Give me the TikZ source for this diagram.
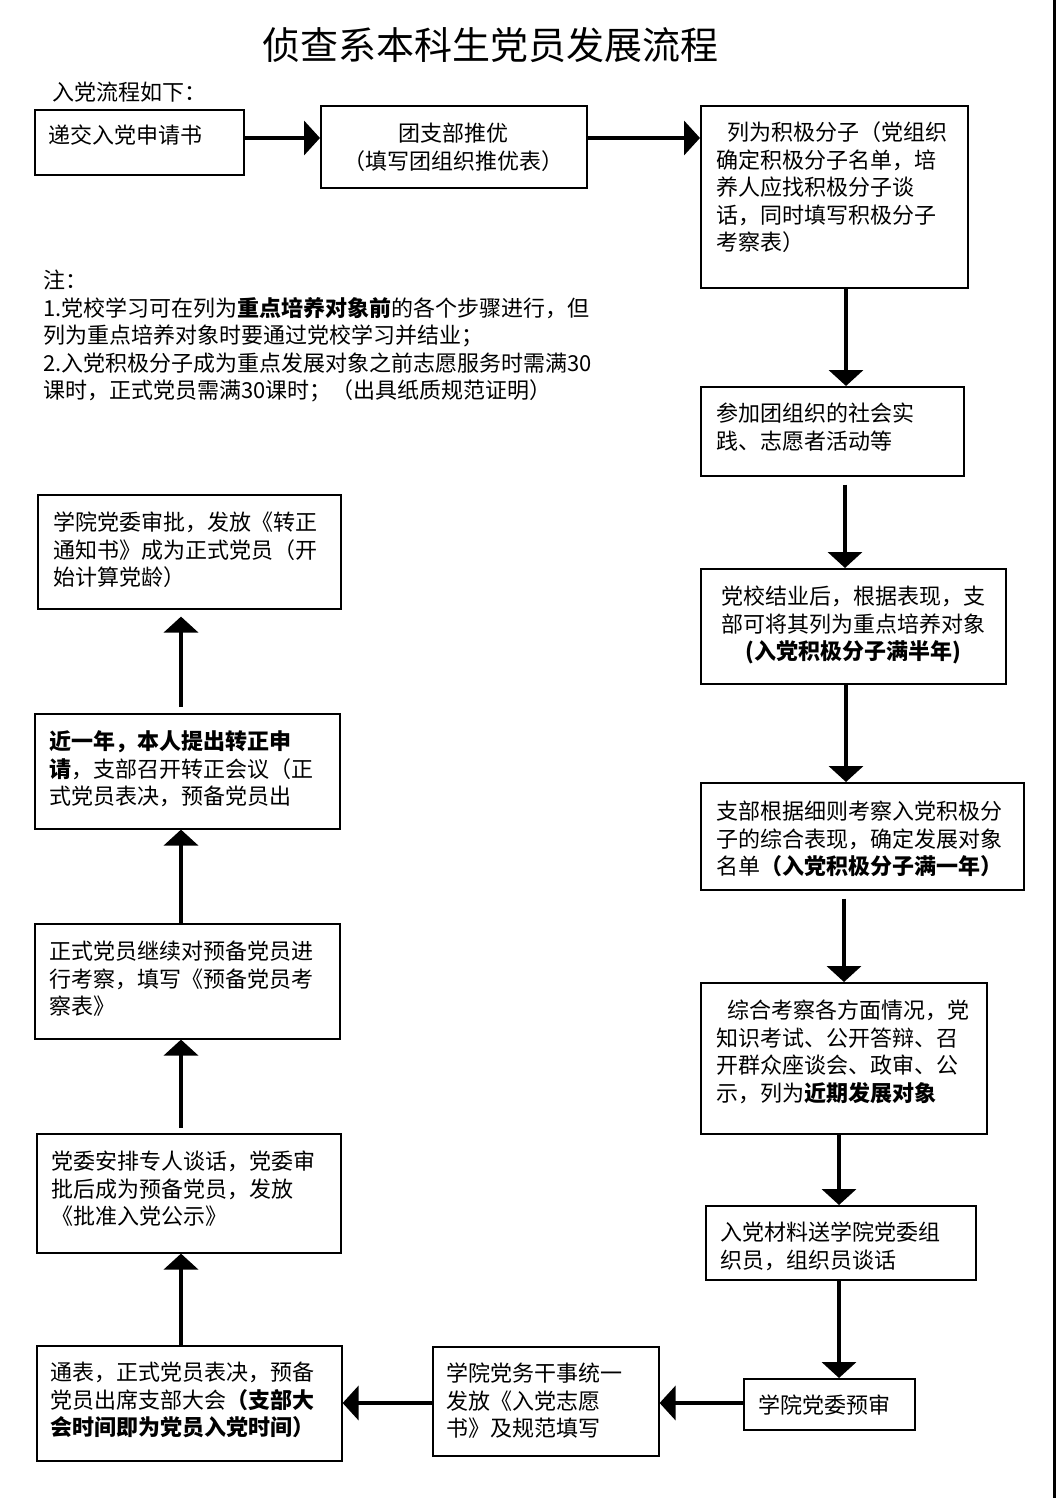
\documentclass[tikz,border=0pt]{standalone}
\usepackage{fontspec}
\setmainfont{Noto Sans CJK SC}
\usetikzlibrary{arrows.meta}
\newcommand\fl{\rule{0pt}{20pt}}
\tikzset{
  box/.style={draw, line width=1.6pt, rectangle, inner sep=0pt, anchor=north west},
  txt/.style={inner sep=0pt, anchor=north west, align=left, font=\fontsize{22pt}{27.5pt}\selectfont},
  ctxt/.style={txt, anchor=north, align=center},
  arr/.style={line width=4pt, -{Triangle[length=16pt,width=34pt]}}
}
\begin{document}
\begin{tikzpicture}[x=1pt,y=-1pt]
\fill[white] (0,0) rectangle (1056,1498);
\useasboundingbox (0,0) rectangle (1056,1498);
\draw[line width=2.5pt] (1054.5,0) -- (1054.5,1498);

\node[inner sep=0pt, font=\fontsize{38pt}{44pt}\selectfont] (title) at (490,45) {侦查系本科生党员发展流程};
\node[txt] (intro) at (52,80.4) {\fl 入党流程如下：};

% boxes
\node[box, minimum width=209pt, minimum height=65pt] (b1) at (34,109) {};
\node[box, minimum width=266pt, minimum height=82pt] (b2) at (320,105) {};
\node[box, minimum width=267pt, minimum height=182pt] (b3) at (700,105) {};
\node[box, minimum width=263pt, minimum height=89pt] (b4) at (700,386) {};
\node[box, minimum width=305pt, minimum height=115pt] (b5) at (700,568) {};
\node[box, minimum width=323pt, minimum height=107pt] (b6) at (700,782) {};
\node[box, minimum width=286pt, minimum height=151pt] (b7) at (700,982) {};
\node[box, minimum width=270pt, minimum height=74pt] (b8) at (705,1205) {};
\node[box, minimum width=171pt, minimum height=51pt] (b9) at (743,1378) {};
\node[box, minimum width=226pt, minimum height=109pt] (b10) at (432,1346) {};
\node[box, minimum width=305pt, minimum height=115pt] (b11) at (36,1345) {};
\node[box, minimum width=304pt, minimum height=119pt] (b12) at (36,1133) {};
\node[box, minimum width=305pt, minimum height=115pt] (b13) at (34,923) {};
\node[box, minimum width=305pt, minimum height=115pt] (b14) at (34,713) {};
\node[box, minimum width=303pt, minimum height=114pt] (b15) at (37,494) {};

% texts
\node[txt] (t1) at (48,123.4) {\fl 递交入党申请书};
\node[ctxt] (t2) at (453,121.4) {\fl 团支部推优\\（填写团组织推优表）};
\node[txt] (t3) at (716,120.4) {\fl\hspace{11pt}列为积极分子（党组织\\确定积极分子名单，培\\养人应找积极分子谈\\话，同时填写积极分子\\考察表）};
\node[txt] (note) at (43,268.4) {\fl 注：\\1.党校学习可在列为\textbf{重点培养对象前}的各个步骤进行，但\\列为重点培养对象时要通过党校学习并结业；\\2.入党积极分子成为重点发展对象之前志愿服务时需满30\\课时，正式党员需满30课时；（出具纸质规范证明）};
\node[txt] (t4) at (716,401.4) {\fl 参加团组织的社会实\\践、志愿者活动等};
\node[ctxt] (t5) at (853,584.4) {\fl 党校结业后，根据表现，支\\部可将其列为重点培养对象\\\textbf{(入党积极分子满半年)}};
\node[txt] (t6) at (716,799.4) {\fl 支部根据细则考察入党积极分\\子的综合表现，确定发展对象\\名单\textbf{（入党积极分子满一年）}};
\node[txt] (t7) at (716,998.4) {\fl\hspace{11pt}综合考察各方面情况，党\\知识考试、公开答辩、召\\开群众座谈会、政审、公\\示，列为\textbf{近期发展对象}};
\node[txt] (t8) at (720,1220.4) {\fl 入党材料送学院党委组\\织员，组织员谈话};
\node[txt] (t9) at (758,1393.4) {\fl 学院党委预审};
\node[txt] (t10) at (446,1361.4) {\fl 学院党务干事统一\\发放《入党志愿\\书》及规范填写};
\node[txt] (t11) at (50,1360.4) {\fl 通表，正式党员表决，预备\\党员出席支部大会\textbf{（支部大}\\\textbf{会时间即为党员入党时间）}};
\node[txt] (t12) at (51,1149.4) {\fl 党委安排专人谈话，党委审\\批后成为预备党员，发放\\《批准入党公示》};
\node[txt] (t13) at (49,939.4) {\fl 正式党员继续对预备党员进\\行考察，填写《预备党员考\\察表》};
\node[txt] (t14) at (49,729.4) {\fl\textbf{近一年，本人提出转正申}\\\textbf{请}，支部召开转正会议（正\\式党员表决，预备党员出};
\node[txt] (t15) at (53,510.4) {\fl 学院党委审批，发放《转正\\通知书》成为正式党员（开\\始计算党龄）};

% connector guides
\coordinate (hy1) at (0,138);
\coordinate (hy2) at (0,1403);
\coordinate (vx1) at (846,0);
\coordinate (vx2) at (845,0);
\coordinate (vx3) at (844,0);
\coordinate (vx4) at (839,0);
\coordinate (vx5) at (181,0);

% connectors
\draw[arr] (b1.east |- hy1) -- (b2.west |- hy1);
\draw[arr] (b2.east |- hy1) -- (b3.west |- hy1);
\draw[arr] (b3.south -| vx1) -- (b4.north -| vx1);
\draw[arr, shorten <=8pt] (b4.south -| vx2) -- (b5.north -| vx2);
\draw[arr] (b5.south -| vx1) -- (b6.north -| vx1);
\draw[arr, shorten <=8pt] (b6.south -| vx3) -- (b7.north -| vx3);
\draw[arr] (b7.south -| vx4) -- (b8.north -| vx4);
\draw[arr] (b8.south -| vx4) -- (b9.north -| vx4);
\draw[arr] (b9.west |- hy2) -- (b10.east |- hy2);
\draw[arr] (b10.west |- hy2) -- (b11.east |- hy2);
\draw[arr] (b11.north -| vx5) -- (b12.south -| vx5);
\draw[arr, shorten <=5pt] (b12.north -| vx5) -- (b13.south -| vx5);
\draw[arr] (b13.north -| vx5) -- (b14.south -| vx5);
\draw[arr, shorten <=6pt, shorten >=7pt] (b14.north -| vx5) -- (b15.south -| vx5);
\end{tikzpicture}
\end{document}
